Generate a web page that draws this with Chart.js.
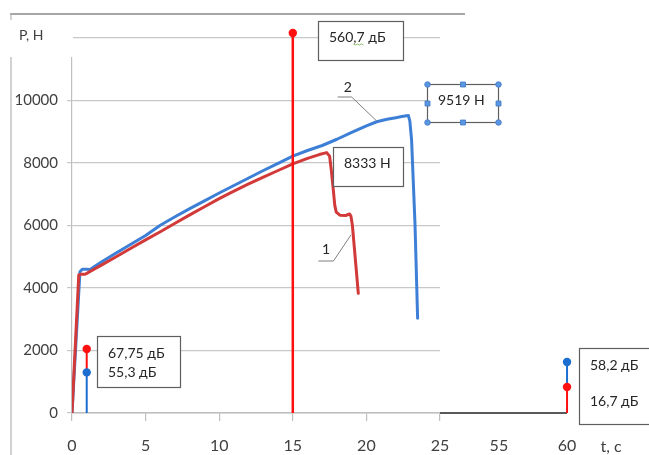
<!DOCTYPE html>
<html>
<head>
<meta charset="utf-8">
<script src="https://cdn.jsdelivr.net/npm/chart.js@4.4.1/dist/chart.umd.min.js"></script>
<style>
  html, body { margin: 0; padding: 0; background: #fff; }
  canvas { display: block; }
</style>
</head>
<body>
<canvas id="c" width="649" height="455"></canvas>
<script>
// Time axis labels, s (the axis is broken after 25 s)
const xTickLabels = [0, 5, 10, 15, 20, 25, 55, 60];
// Load axis, N
const yTickValues = [0, 2000, 4000, 6000, 8000, 10000, 12000];
const yTickLabels = ['0', '2000', '4000', '6000', '8000', '10000', ''];

// Curve 1 (red): load P, N against time t, s
const curve1T = [0, 0.46, 0.6, 0.88, 1.0, 1.5, 2, 3, 4, 5, 6, 7, 8, 9, 10, 11, 12, 13, 14, 15, 16, 16.8, 17.3,
                 17.5, 17.62, 17.75, 17.85, 17.95, 18.2, 18.6, 18.85, 18.95, 19.05, 19.45];
const curve1P = [0, 4420, 4440, 4440, 4470, 4600, 4730, 5000, 5270, 5540, 5800, 6070, 6340, 6600, 6860, 7100, 7330, 7550, 7760, 7970, 8150, 8270, 8333,
                 8220, 7750, 7150, 6650, 6430, 6330, 6320, 6370, 6300, 6000, 3830];

// Curve 2 (blue)
const curve2T = [0, 0.54, 0.7, 1.0, 1.25, 1.5, 2, 3, 4, 5, 6, 7, 8, 9, 10, 11, 12, 13, 14, 15, 16, 17, 18, 19, 20, 20.7, 21.4, 22, 22.4, 22.85,
                 22.95, 23.07, 23.3, 23.48];
const curve2P = [0, 4520, 4600, 4600, 4590, 4680, 4830, 5120, 5400, 5680, 6010, 6280, 6540, 6790, 7040, 7280, 7520, 7760, 7990, 8220, 8400, 8560, 8760, 8980, 9190, 9320, 9400, 9450, 9485, 9519,
                 9350, 8736, 6070, 3030];

// Acoustic emission markers (stem heights on the load axis)
const redStemT = [1, 15, 60];
const redStemP = [2050, 12160, 830];
const blueStemT = [1, 60];
const blueStemP = [1300, 1630];

// Record after 25 s
const tailT = [25, 60];
const tailP = [0, 0];

// Callout texts
const noteAt1 = ['67,75 дБ', '55,3 дБ'];
const noteAt15 = ['560,7 дБ'];
const noteAt60 = ['58,2 дБ', '16,7 дБ'];
const peak1Label = Math.max(...curve1P) + ' Н';
const peak2Label = Math.max(...curve2P) + ' Н';

// Broken time axis: seconds -> axis units
const axisBreaks = [[0, 0], [25, 25], [55, 29], [60, 33.63]];
function toAxis(t) {
  for (let i = 1; i < axisBreaks.length; i++) {
    const [t0, u0] = axisBreaks[i - 1], [t1, u1] = axisBreaks[i];
    if (t <= t1 || i === axisBreaks.length - 1) return u0 + (t - t0) * (u1 - u0) / (t1 - t0);
  }
}

const pts = (ts, ps) => ts.map((t, i) => ({ x: toAxis(t), y: ps[i] }));

const RED_CURVE = '#d23a3a', BLUE_CURVE = '#3d7fd6';
const RED_STEM = '#ff1010', BLUE_STEM = '#1c6fd0';

// Stems: each one starts where a lower stem at the same time ends
function stemDatasets() {
  const all = [];
  redStemT.forEach((t, i) => all.push({ t, p: redStemP[i], c: RED_STEM, w: t === 15 ? 2.5 : 2 }));
  blueStemT.forEach((t, i) => all.push({ t, p: blueStemP[i], c: BLUE_STEM, w: 2 }));
  return all.map(s => {
    const lower = all.filter(o => o !== s && o.t === s.t && o.p < s.p).map(o => o.p);
    const base = lower.length ? Math.max(...lower) : 0;
    return {
      data: [{ x: toAxis(s.t), y: base }, { x: toAxis(s.t), y: s.p }],
      borderColor: s.c, backgroundColor: s.c, borderWidth: s.w,
      pointRadius: 0, showLine: true, clip: false, order: 1,
      stemDot: s.c
    };
  });
}

const FONT = 'Lato, "Open Sans", sans-serif';

// Callout boxes anchored at (t, P) of their top-left corner
const callouts = [
  { lines: noteAt15, t: 16.71, p: 12544, w: 85, h: 39, dy: [16], squiggle: true },
  { lines: [peak2Label], t: 24.12, p: 10528, w: 71, h: 38, dy: [16], handles: true },
  { lines: [peak1Label], t: 17.73, p: 8512, w: 70, h: 39, dy: [16] },
  { lines: noteAt1, t: 1.70, p: 2464, w: 83, h: 51, dy: [17, 36] },
  { lines: noteAt60, t: 60.87, p: 2080, w: 80, h: 76, dy: [17, 53] }
];
// Curve number leaders
const leaders = [
  { text: '2', at: [18.73, 10432], path: [[18.05, 10112], [19.0, 10112], [20.7, 9344]] },
  { text: '1', at: [17.26, 5248], path: [[16.74, 4864], [17.76, 4864], [18.95, 5696]] }
];

const decor = {
  id: 'decor',
  beforeDraw(chart) {
    const ctx = chart.ctx;
    ctx.save();
    ctx.strokeStyle = '#a6a6a6';
    ctx.lineWidth = 2;
    ctx.beginPath(); ctx.moveTo(10, 14); ctx.lineTo(465, 14); ctx.stroke();
    ctx.strokeStyle = '#b4b4b4';
    ctx.lineWidth = 1.2;
    ctx.beginPath(); ctx.moveTo(11, 13); ctx.lineTo(11, 455); ctx.stroke();
    ctx.restore();
  },
  afterDatasetsDraw(chart) {
    const ctx = chart.ctx, xs = chart.scales.x, ys = chart.scales.y;
    const px = t => xs.getPixelForValue(toAxis(t));
    const py = p => ys.getPixelForValue(p);
    ctx.save();
    // stem heads (drawn here so that heads above or beside the plot area show too)
    chart.data.datasets.forEach((ds, i) => {
      if (!ds.stemDot) return;
      const head = chart.getDatasetMeta(i).data[1];
      ctx.fillStyle = ds.stemDot;
      ctx.beginPath();
      ctx.arc(head.x, head.y, 4.2, 0, Math.PI * 2);
      ctx.fill();
    });
    // leaders
    ctx.strokeStyle = '#7f7f7f';
    ctx.lineWidth = 1;
    ctx.font = '14px ' + FONT;
    ctx.fillStyle = '#262626';
    ctx.textAlign = 'center';
    ctx.textBaseline = 'middle';
    leaders.forEach(l => {
      ctx.beginPath();
      l.path.forEach(([t, p], i) => i ? ctx.lineTo(px(t), py(p)) : ctx.moveTo(px(t), py(p)));
      ctx.stroke();
      ctx.fillText(l.text, px(l.at[0]), py(l.at[1]));
    });
    // callout boxes
    callouts.forEach(c => {
      const x = Math.round(px(c.t)), y = Math.round(py(c.p));
      ctx.fillStyle = '#fff';
      ctx.fillRect(x, y, c.w, c.h);
      ctx.strokeStyle = '#5f5f5f';
      ctx.lineWidth = 1.2;
      ctx.strokeRect(x + 0.5, y + 0.5, c.w, c.h);
      ctx.fillStyle = '#262626';
      ctx.font = '14px ' + FONT;
      ctx.textAlign = 'left';
      ctx.textBaseline = 'middle';
      c.lines.forEach((s, i) => ctx.fillText(s, x + 11, y + c.dy[i]));
      if (c.squiggle) {
        const s = c.lines[0];
        const a = x + 11 + ctx.measureText(s.slice(0, 3)).width;
        const b = x + 11 + ctx.measureText(s.slice(0, 5)).width;
        ctx.strokeStyle = '#8cc06a';
        ctx.lineWidth = 1;
        ctx.beginPath();
        for (let k = a; k <= b; k += 2) {
          const yy = y + c.dy[0] + 7 + ((k - a) % 4 === 0 ? 0 : 1);
          k === a ? ctx.moveTo(k, yy) : ctx.lineTo(k, yy);
        }
        ctx.stroke();
      }
      if (c.handles) {
        const hx = [x, x + c.w / 2, x + c.w], hy = [y, y + c.h / 2, y + c.h];
        ctx.fillStyle = '#5b96e0';
        ctx.strokeStyle = '#3f78c8';
        ctx.lineWidth = 0.8;
        hx.forEach((X, i) => hy.forEach((Y, j) => {
          if (i === 1 && j === 1) return;
          ctx.beginPath();
          if (i !== 1 && j !== 1) ctx.arc(X + 0.5, Y + 0.5, 2.8, 0, Math.PI * 2);
          else ctx.rect(X - 2, Y - 2, 5, 5);
          ctx.fill(); ctx.stroke();
        }));
      }
    });
    ctx.restore();
  },
  afterDraw(chart) {
    const ctx = chart.ctx, xs = chart.scales.x;
    ctx.save();
    // load axis caption
    ctx.fillStyle = '#fff';
    ctx.fillRect(5, 20, 68, 37);
    ctx.fillStyle = '#404040';
    ctx.font = '14px ' + FONT;
    ctx.textAlign = 'left';
    ctx.textBaseline = 'middle';
    ctx.fillText('P, Н', 19, 35);
    // time axis caption
    ctx.font = '16px ' + FONT;
    ctx.textAlign = 'center';
    ctx.fillText('t, с', xs.getPixelForValue(toAxis(60)) + 44, 447);
    ctx.restore();
  }
};

Chart.defaults.font.family = FONT;
Chart.defaults.color = '#404040';

new Chart(document.getElementById('c'), {
  type: 'scatter',
  data: {
    datasets: [
      ...stemDatasets(),
      { data: pts(curve1T, curve1P), borderColor: RED_CURVE, borderWidth: 3, pointRadius: 0, showLine: true,
        borderJoinStyle: 'round', borderCapStyle: 'round', order: 2 },
      { data: pts(curve2T, curve2P), borderColor: BLUE_CURVE, borderWidth: 3, pointRadius: 0, showLine: true,
        borderJoinStyle: 'round', borderCapStyle: 'round', order: 3 },
      { data: pts(tailT, tailP), borderColor: '#595959', borderWidth: 2, pointRadius: 0, showLine: true,
        clip: false, order: 4 }
    ]
  },
  options: {
    responsive: false,
    devicePixelRatio: 1,
    animation: false,
    events: [],
    layout: { padding: { left: 0, top: 38, right: 209, bottom: 0 } },
    plugins: { legend: { display: false }, tooltip: { enabled: false } },
    scales: {
      x: {
        type: 'linear', min: 0, max: 25,
        afterBuildTicks: s => { s.ticks = xTickLabels.map(t => ({ value: toAxis(t) })); },
        afterFit: s => { s.height = 42; },
        ticks: {
          autoSkip: false, maxRotation: 0, padding: 15,
          font: { size: 16 }, color: '#404040',
          callback: (v, i) => String(xTickLabels[i])
        },
        grid: {
          drawOnChartArea: false, drawTicks: true, tickLength: 8, lineWidth: 1.2,
          color: c => (c.tick && c.tick.value > 25.01) ? 'rgba(0,0,0,0)' : '#bfbfbf'
        },
        border: { display: true, color: '#bfbfbf', width: 1.5 }
      },
      y: {
        type: 'linear', min: 0, max: 12000,
        afterBuildTicks: s => { s.ticks = yTickValues.map(v => ({ value: v })); },
        afterFit: s => { s.width = 72; },
        ticks: {
          padding: 9, font: { size: 15 }, color: '#404040',
          callback: (v, i) => yTickLabels[i]
        },
        grid: { color: '#c8c8c8', lineWidth: 1.2, tickLength: 5 },
        border: { display: true, color: '#bfbfbf', width: 1.2 }
      }
    }
  },
  plugins: [decor]
});
</script>
</body>
</html>
